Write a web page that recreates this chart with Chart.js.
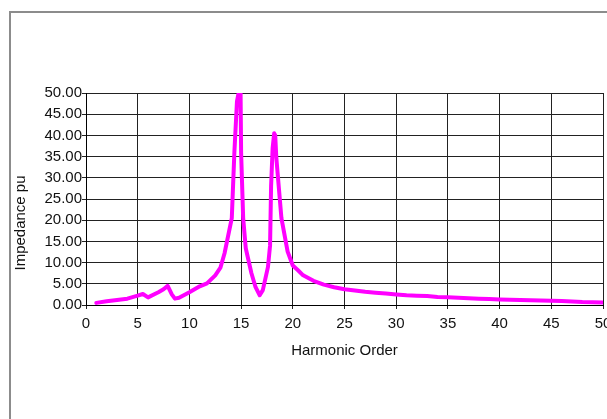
<!DOCTYPE html>
<html>
<head>
<meta charset="utf-8">
<script src="https://cdn.jsdelivr.net/npm/chart.js@4"></script>
<style>
    html, body { margin: 0; padding: 0; background: #fff; overflow: hidden; width: 607px; height: 419px; }
    #frame { position: absolute; left: 9px; top: 11px; width: 700px; height: 500px; border: 2px solid #8c8c8c; }
    #chart { position: absolute; left: 0; top: 0; }
</style>
</head>
<body>
<div id="frame"></div>
<canvas id="chart" width="625" height="419"></canvas>
<script>
// Harmonic scan data
var harmonicOrder = [
    1, 2, 3, 4, 5, 5.5, 6, 7, 7.5, 7.9, 8.3, 8.6, 9, 10, 11, 11.7, 12.5, 13, 13.4,
    14.1, 14.35, 14.6, 14.8, 14.95, 15.0, 15.2, 15.45, 16.0, 16.4, 16.8,
    17.1, 17.6, 17.8, 17.9, 18.05, 18.2, 18.3, 18.4, 18.5, 18.9, 19.5, 20.0, 20.5,
    21, 22, 23, 24, 25, 26, 27, 28, 29, 30, 31, 32, 33, 34, 35, 36, 37, 38, 39,
    40, 41, 42, 43, 44, 45, 46, 47, 48, 49, 50
];
var impedancePu = [
    0.5, 0.9, 1.2, 1.5, 2.2, 2.6, 1.8, 3.0, 3.7, 4.5, 2.5, 1.5, 1.7, 3.0, 4.4, 5.1, 7.0, 8.8, 12.2,
    20.5, 36, 48, 50.5, 50, 36, 20.5, 13.4, 7.5, 4.2, 2.3,
    3.5, 9, 14, 28, 37, 40.5, 40, 35, 32, 20.5, 12.6, 9.3, 8.2,
    7.0, 5.7, 4.8, 4.2, 3.7, 3.4, 3.1, 2.9, 2.7, 2.5, 2.3, 2.2, 2.1, 1.9, 1.8, 1.7, 1.6, 1.5, 1.4,
    1.3, 1.25, 1.2, 1.1, 1.05, 1.0, 0.95, 0.85, 0.7, 0.65, 0.6
];
var xTitle = "Harmonic Order";
var yTitle = "Impedance pu";

var points = harmonicOrder.map(function (h, i) {
    return { x: h, y: impedancePu[i] };
});

var fontFamily = "'Liberation Sans', Arial, sans-serif";

// axis titles drawn by hand so they sit where the original has them
var axisTitles = {
    id: "axisTitles",
    afterDraw: function (chart) {
        var ctx = chart.ctx;
        var area = chart.chartArea;
        ctx.save();
        ctx.fillStyle = "#111";
        ctx.font = "15px " + fontFamily;
        ctx.textAlign = "center";
        ctx.textBaseline = "middle";
        ctx.fillText(xTitle, (area.left + area.right) / 2, area.bottom + 46);
        ctx.translate(21, area.bottom - 82);
        ctx.rotate(-Math.PI / 2);
        ctx.fillText(yTitle, 0, 0);
        ctx.restore();
    }
};

var ctx = document.getElementById("chart").getContext("2d");
new Chart(ctx, {
    type: "scatter",
    data: {
        datasets: [
            {
                label: yTitle,
                data: points,
                showLine: true,
                borderColor: "#ff00ff",
                backgroundColor: "#ff00ff",
                borderWidth: 4,
                borderJoinStyle: "round",
                borderCapStyle: "round",
                pointRadius: 0,
                tension: 0,
                clip: 0,
            },
        ],
    },
    options: {
        responsive: false,
        animation: false,
        layout: {
            padding: { left: 0, top: 93, right: 22, bottom: 0 },
        },
        plugins: {
            legend: { display: false },
            tooltip: { enabled: false },
        },
        scales: {
            x: {
                type: "linear",
                min: 0,
                max: 50,
                afterFit: function (scale) { scale.height = 114; },
                ticks: {
                    stepSize: 5,
                    color: "#111",
                    padding: 6,
                    maxRotation: 0,
                    font: { family: fontFamily, size: 15 },
                },
                grid: { color: "#222", lineWidth: 1, tickLength: 4 },
                border: { color: "#000", width: 1 },
            },
            y: {
                min: 0,
                max: 50,
                afterFit: function (scale) { scale.width = 86; },
                ticks: {
                    stepSize: 5,
                    color: "#111",
                    padding: 0,
                    font: { family: fontFamily, size: 15 },
                    callback: function (v) { return v.toFixed(2); },
                },
                grid: { color: "#222", lineWidth: 1, tickLength: 4 },
                border: { color: "#000", width: 1 },
            },
        },
    },
    plugins: [axisTitles],
});
</script>
</body>
</html>
